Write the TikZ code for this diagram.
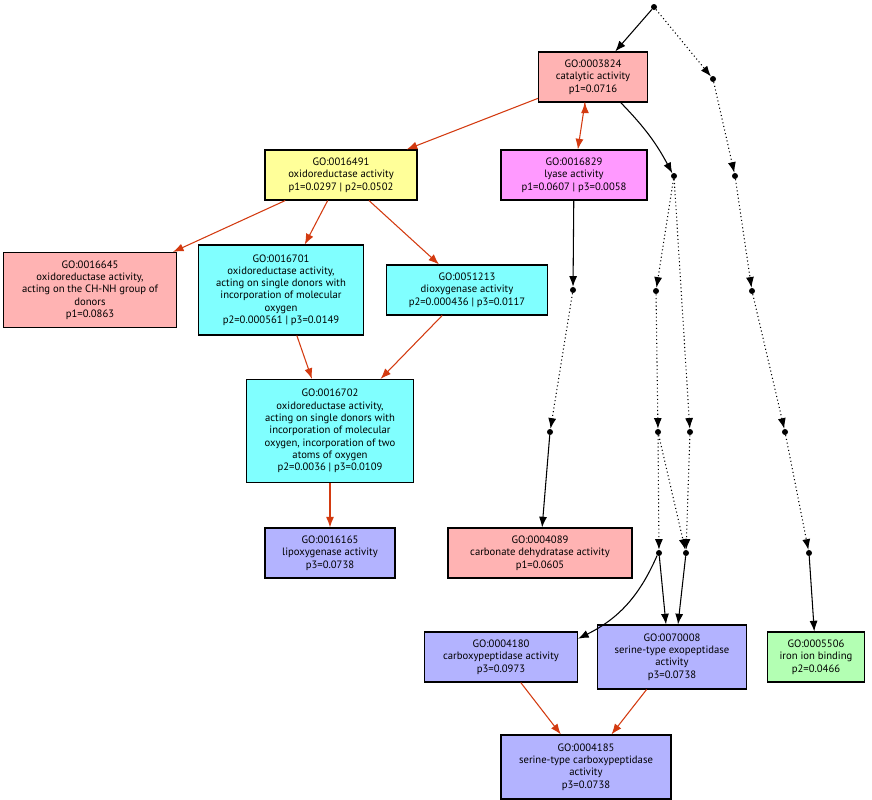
\documentclass[tikz,border=0pt]{standalone}
\usepackage{fontspec}
\setmainfont{PT Sans}
\usetikzlibrary{arrows.meta}
\definecolor{gopink}{HTML}{FFB3B3}
\definecolor{goyellow}{HTML}{FFFF99}
\definecolor{gomagenta}{HTML}{FF99FF}
\definecolor{gocyan}{HTML}{80FFFF}
\definecolor{goblue}{HTML}{B3B3FF}
\definecolor{gogreen}{HTML}{B3FFB3}
\definecolor{gored}{HTML}{D33A10}

\begin{document}
\begin{tikzpicture}[x=0.75pt,y=-0.75pt,
  term/.style={draw,thick,align=center,font=\fontsize{8}{9.2}\selectfont,inner sep=1pt},
  pt/.style={circle,fill,inner sep=0pt,minimum size=4.5pt},
  isa/.style={gored,thick,-{Latex[length=8pt,width=6pt]}},
  solid link/.style={black,thick,-{Latex[length=8pt,width=6pt]}},
  dot link/.style={black,thick,dotted,-{Latex[length=8pt,width=6pt]}},
  dot plain/.style={black,thick,dotted}]
  \useasboundingbox (0,0) rectangle (872,800);

  % terms
  \node[term,fill=gopink,minimum width=109*0.75pt,minimum height=50*0.75pt]    (go3824)  at (593,77)  {GO:0003824\\catalytic activity\\p1=0.0716};
  \node[term,fill=goyellow,minimum width=152*0.75pt,minimum height=50*0.75pt]  (go16491) at (341,175) {GO:0016491\\oxidoreductase activity\\p1=0.0297 | p2=0.0502};
  \node[term,fill=gomagenta,minimum width=146*0.75pt,minimum height=50*0.75pt] (go16829) at (574,175) {GO:0016829\\lyase activity\\p1=0.0607 | p3=0.0058};
  \node[term,fill=gopink,minimum width=173*0.75pt,minimum height=75*0.75pt]    (go16645) at (90,290)  {GO:0016645\\oxidoreductase activity,\\acting on the CH-NH group of\\donors\\p1=0.0863};
  \node[term,fill=gocyan,minimum width=165*0.75pt,minimum height=90*0.75pt]    (go16701) at (281,290) {GO:0016701\\oxidoreductase activity,\\acting on single donors with\\incorporation of molecular\\oxygen\\p2=0.000561 | p3=0.0149};
  \node[term,fill=gocyan,minimum width=161*0.75pt,minimum height=50*0.75pt]    (go51213) at (467,290) {GO:0051213\\dioxygenase activity\\p2=0.000436 | p3=0.0117};
  \node[term,fill=gocyan,minimum width=167*0.75pt,minimum height=103*0.75pt]   (go16702) at (330,431) {GO:0016702\\oxidoreductase activity,\\acting on single donors with\\incorporation of molecular\\oxygen, incorporation of two\\atoms of oxygen\\p2=0.0036 | p3=0.0109};
  \node[term,fill=goblue,minimum width=130*0.75pt,minimum height=50*0.75pt]    (go16165) at (330,553) {GO:0016165\\lipoxygenase activity\\p3=0.0738};
  \node[term,fill=gopink,minimum width=184*0.75pt,minimum height=50*0.75pt]    (go4089)  at (540,553) {GO:0004089\\carbonate dehydratase activity\\p1=0.0605};
  \node[term,fill=goblue,minimum width=153*0.75pt,minimum height=50*0.75pt]    (go4180)  at (501,657) {GO:0004180\\carboxypeptidase activity\\p3=0.0973};
  \node[term,fill=goblue,minimum width=149*0.75pt,minimum height=64*0.75pt]    (go70008) at (672,657) {GO:0070008\\serine-type exopeptidase\\activity\\p3=0.0738};
  \node[term,fill=gogreen,minimum width=97*0.75pt,minimum height=50*0.75pt]    (go5506)  at (816,657) {GO:0005506\\iron ion binding\\p2=0.0466};
  \node[term,fill=goblue,minimum width=170*0.75pt,minimum height=64*0.75pt]    (go4185)  at (586,767) {GO:0004185\\serine-type carboxypeptidase\\activity\\p3=0.0738};

  % junction points
  \node[pt] (top) at (654,7)   {};
  \node[pt] (j1)  at (713,79)  {};
  \node[pt] (j2)  at (674,176) {};
  \node[pt] (j3)  at (735,176) {};
  \node[pt] (j4)  at (573,290) {};
  \node[pt] (j5)  at (656,291) {};
  \node[pt] (j6)  at (752,291) {};
  \node[pt] (j7)  at (550,432) {};
  \node[pt] (j8)  at (658,432) {};
  \node[pt] (j9)  at (690,432) {};
  \node[pt] (j10) at (785,432) {};
  \node[pt] (j11) at (659,553) {};
  \node[pt] (j12) at (686,553) {};
  \node[pt] (j13) at (809,553) {};

  % is_a edges
  \draw[isa] (go3824) -- (go16491);
  \draw[isa] (go3824.south west) ++(47,0) coordinate (c1);
  \draw[isa] (c1) -- (go16829);
  \draw[isa] (go16491) -- (go16645);
  \draw[isa] (go16491) -- (go16701);
  \draw[isa] (go16491) -- (go51213);
  \draw[isa] (go16701) -- (go16702);
  \draw[isa] (go51213) -- (go16702);
  \draw[isa] (go16702) -- (go16165);
  \draw[isa] (go4180) -- (go4185);
  \draw[isa] (go70008) -- (go4185);

  % other links
  \draw[solid link] (top) -- (go3824);
  \draw[dot link] (top) -- (j1);
  \draw[solid link] (go3824) to[bend left=8] (j2);
  \draw[dot link] (j1) -- (j3);
  \draw[solid link] (go16829) -- (j4);
  \draw[dot link] (j2) -- (j5);
  \draw[dot link] (j2) -- (j9);
  \draw[dot link] (j3) -- (j6);
  \draw[dot link] (j4) -- (j7);
  \draw[dot link] (j5) -- (j8);
  \draw[dot link] (j6) -- (j10);
  \draw[solid link] (j7) -- (go4089);
  \draw[dot link] (j8) -- (j11);
  \draw[dot link] (j8) -- (j12);
  \draw[dot link] (j9) -- (j12);
  \draw[dot link] (j10) -- (j13);
  \draw[solid link] (j11) to[bend left=20] (go4180);
  \draw[solid link] (j11) -- (go70008.north -| 666,0);
  \draw[solid link] (j12) -- (go70008.north -| 678,0);
  \draw[solid link] (j13) -- (go5506);
\end{tikzpicture}
\end{document}
